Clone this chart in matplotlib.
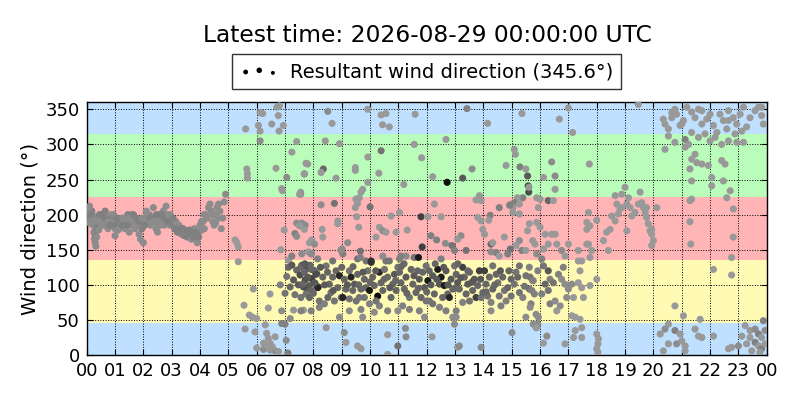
import matplotlib
matplotlib.use("Agg")
import matplotlib.pyplot as plt

TITLE = "Latest time: 2026-08-29 00:00:00 UTC"
LEGEND_LABEL = "Resultant wind direction (345.6°)"
YLABEL = "Wind direction (°)"
XTICK_LABELS = ["%02d" % h for h in range(24)] + ["00"]
YTICKS = [0, 50, 100, 150, 200, 250, 300, 350]

# sector bands (deg from, deg to, colour)
BANDS = [(0, 45, "#bfe0ff"), (45, 135, "#fffab4"), (135, 225, "#ffb4b6"),
         (225, 315, "#bafcba"), (315, 360, "#bfe0ff")]

# (hour, direction, grey shade)
night = [
(0.02,200,.55),(0.05,195,.5),(0.08,208,.55),(0.1,212,.55),(0.12,198,.5),(0.15,190,.55),(0.18,205,.5),(0.2,200,.55),
(0.22,185,.55),(0.25,175,.55),(0.27,165,.55),(0.3,160,.55),(0.3,170,.5),(0.32,155,.55),(0.35,168,.55),(0.35,180,.5),
(0.38,195,.55),(0.4,185,.5),(0.42,178,.55),(0.45,190,.55),(0.5,200,.5),(0.55,195,.55),(0.6,185,.5),(0.62,200,.55),
(0.65,205,.5),(0.7,195,.55),(0.72,190,.5),(0.75,180,.55),(0.8,185,.5),(0.85,200,.55),(0.9,195,.5),(0.95,190,.55),
(1.0,180,.55),(1.05,185,.5),(1.1,178,.55),(1.15,190,.5),(1.2,185,.55),(1.25,195,.55),(1.3,185,.5),(1.35,180,.55),
(1.4,190,.55),(1.45,200,.5),(1.5,195,.55),(1.55,185,.55),(1.6,200,.5),(1.65,190,.55),(1.7,180,.55),(1.75,195,.5),
(1.8,185,.55),(1.85,172,.55),(1.9,165,.55),(1.95,180,.5),(2.0,185,.55),(2.0,160,.55),(2.05,195,.5),(2.1,205,.55),
(2.15,190,.55),(2.2,200,.5),(2.25,185,.55),(2.3,195,.55),(2.35,210,.55),(2.4,190,.5),(2.45,180,.55),(2.5,195,.55),
(2.55,200,.5),(2.6,185,.55),(2.65,190,.55),(2.7,205,.55),(2.75,195,.5),(2.8,212,.55),(2.85,200,.55),(2.9,190,.5),
(2.95,185,.55),(3.0,195,.55),(3.05,185,.5),(3.1,180,.55),(3.15,190,.55),(3.2,175,.5),(3.25,185,.55),(3.3,178,.5),
(3.35,172,.55),(3.4,180,.5),(3.45,170,.5),(3.5,175,.55),(3.55,168,.5),(3.6,178,.55),(3.65,170,.5),(3.7,165,.55),
(3.75,172,.5),(3.8,180,.55),(3.85,168,.55),(3.9,160,.55),(3.95,175,.55),(4.0,185,.55),(4.05,178,.55),(4.1,190,.55),
(4.15,180,.55),(4.2,200,.55),(4.25,195,.55),(4.3,210,.55),(4.35,215,.55),(4.4,205,.55),(4.45,190,.55),(4.5,185,.55),
(4.55,200,.55),(4.6,210,.55),(4.65,215,.55),(4.7,205,.55),(4.75,180,.55),(4.8,195,.55),(4.85,218,.55),(4.9,229,.55),
(0.05,210,.55),(0.15,200,.5),(0.25,190,.55),(0.45,200,.5),(0.55,185,.55),(0.65,195,.5),(0.75,190,.55),(0.85,185,.5),
(0.95,200,.55),(1.05,195,.5),(1.15,180,.55),(1.25,185,.5),(1.35,195,.55),(1.45,185,.5),(1.55,195,.55),(1.65,200,.5),
(1.75,185,.55),(1.85,190,.5),(1.95,195,.55),(2.05,185,.5),(2.15,200,.55),(2.25,195,.5),(2.35,190,.55),(2.45,200,.5),
(2.55,185,.55),(2.65,200,.5),(2.75,185,.55),(2.85,190,.5),(2.95,200,.55),(3.05,195,.5),(3.15,180,.5),(3.25,175,.5),
(3.35,180,.5),(3.45,178,.5),(3.55,175,.5),(3.65,178,.5),(3.75,168,.5),(3.85,175,.5),(3.95,168,.5),(0.1,188,.55),
(0.2,192,.55),(1.0,170,.55),(1.5,175,.55),(2.5,175,.55),(4.05,190,.55),(4.15,200,.55),(4.45,200,.55),(4.55,188,.55),
(4.65,195,.55),
]

dawn = [
(5.24,164,.6),(5.3,160,.6),(5.35,154,.6),(5.35,133,.6),(5.61,322,.6),(5.65,265,.6),(5.67,258,.6),(5.67,252,.6),
(5.88,94,.6),(5.55,71,.6),(5.74,57,.6),(5.85,54,.6),(6.0,52,.6),(5.59,37,.6),(5.94,33,.6),(6.3,43,.6),(6.35,31,.6),
(6.41,24,.6),(6.47,17,.6),(6.24,17,.6),(6.65,26,.6),(6.0,10,.6),(6.24,8,.55),(6.47,7,.6),(6.65,6,.55),(6.77,5,.6),
(6.55,12,.6),(6.35,14,.6),(6.41,67,.6),(6.47,87,.6),(6.12,345,.6),(6.21,344,.6),(6.06,327,.6),(6.12,319,.6),
(6.12,305,.55),(6.71,353,.6),(6.8,355,.6),(6.76,341,.6),(6.53,329,.6),(6.79,319,.6),(6.94,327,.6),(6.68,266,.6),
(6.91,234,.6),(6.85,150,.6),(6.97,178,.6),(6.88,237,.6),
(6.88,63,.55),(6.88,45,.5),(7.0,44,.5),(7.04,21,.55),(7.1,3,.5),(7.18,52,.55),(7.3,64,.6),(7.65,64,.6),(7.55,232,.6),
(7.06,253,.55),(7.24,289,.6),(7.41,304,.6),(7.55,229,.55),(7.76,273,.6),(7.68,258,.45),(7.41,188,.55),(7.59,188,.55),
(7.71,185,.55),(7.35,173,.5),(7.41,169,.55),(7.94,164,.6),(7.12,135,.6),(7.24,141,.5),(7.59,144,.55),(7.82,147,.6),
(7.94,145,.55),
(7.12,125,.4),(7.24,128,.35),(7.41,121,.4),(7.59,128,.35),(7.76,123,.3),(7.88,128,.4),(8.0,121,.3),(8.12,116,.35),
(7.06,112,.45),(7.3,107,.35),(7.53,114,.3),(7.71,107,.3),(7.94,109,.25),(8.06,102,.3),(8.18,97,.35),(6.83,100,.5),
(7.18,97,.4),(7.47,100,.35),(7.76,95,.35),(8.0,88,.4),(7.0,88,.45),(7.35,86,.45),(7.65,97,.3),
]

day_low = [
(7.56,125,.4),(7.68,118,.4),(7.8,111,.35),(7.92,122,.4),(7.62,101,.4),(7.86,99,.35),(7.92,92,.4),(7.74,87,.45),
(7.56,82,.45),(7.86,82,.4),(8.04,120,.4),(7.92,63,.5),(7.56,63,.5),
(8.09,115,.3),(8.15,96,.15),(8.33,111,.4),(8.45,127,.45),(8.56,101,.4),(8.62,89,.45),(8.68,111,.4),(8.8,120,.4),
(8.86,96,.4),(8.92,113,.15),(8.98,82,.45),(8.21,77,.45),(8.39,73,.5),(8.51,82,.4),(8.74,77,.45),(8.92,54,.55),
(8.21,68,.5),(8.04,103,.35),(8.68,134,.45),(8.98,149,.5),
(9.09,108,.4),(9.15,94,.4),(9.27,120,.45),(9.33,111,.15),(9.39,92,.4),(9.45,101,.35),(9.56,115,.4),(9.62,82,.45),
(9.68,65,.5),(9.8,108,.4),(9.86,96,.4),(9.92,120,.45),(9.98,92,.1),(9.27,80,.45),(9.04,82,.15),(9.51,77,.45),
(9.68,94,.4),(9.8,82,.45),(9.27,63,.55),(9.74,54,.55),(9.56,137,.45),(9.86,134,.45),
(10.04,132,.2),(10.09,111,.4),(10.15,99,.4),(10.27,84,.05),(10.33,118,.15),(10.39,103,.4),(10.45,92,.4),
(10.51,122,.45),(10.62,111,.4),(10.68,134,.45),(10.74,82,.4),(10.8,101,.4),(10.86,115,.35),(10.92,92,.4),
(10.98,125,.45),(10.33,70,.5),(10.62,63,.5),(10.15,61,.55),(10.98,63,.55),(10.56,134,.45),(10.21,77,.45),(9.98,73,.5),
(11.04,118,.4),(11.09,103,.4),(11.21,94,.4),(11.27,111,.35),(11.39,82,.45),(11.45,122,.4),(11.51,101,.4),
(11.62,89,.4),(11.68,120,.4),(11.74,108,.35),(11.8,82,.4),(11.86,118,.4),(11.92,96,.35),(11.98,77,.45),
(11.15,70,.5),(11.39,65,.5),(11.74,63,.5),(11.92,54,.55),(11.56,139,.45),(11.98,127,.45),
(12.04,106,.1),(12.09,120,.4),(12.21,113,.35),(12.27,87,.4),(12.39,122,.1),(12.45,101,.35),(12.51,111,.1),
(12.56,82,.4),(12.62,99,.1),(12.68,120,.35),(12.74,87,.4),(12.8,82,.15),(12.86,108,.35),(12.92,94,.4),
(12.98,127,.45),(12.09,77,.45),(12.21,73,.45),(12.45,68,.5),(12.68,63,.5),(12.92,54,.55),(13.04,63,.5),
(13.04,115,.4),(13.09,103,.35),(13.15,94,.4),(13.27,125,.25),(13.33,111,.4),(13.39,87,.4),(13.45,101,.35),
(13.51,118,.4),(13.62,92,.4),(13.68,108,.35),(13.74,82,.25),(13.8,99,.4),(13.86,120,.25),(13.92,82,.45),
(13.98,89,.4),(13.27,75,.5),(13.51,77,.45),(13.04,54,.55),(12.98,44,.55),
(14.04,120,.25),(14.09,101,.4),(14.15,84,.45),(14.21,111,.4),(14.27,75,.5),(14.33,94,.4),(14.45,115,.4),
(14.51,103,.45),(14.56,84,.45),(14.68,111,.4),(14.74,92,.45),(14.8,77,.5),(14.86,96,.4),(14.98,108,.4),
(14.27,63,.55),(14.62,70,.5),(14.33,127,.45),(14.98,84,.45),
(15.09,101,.45),(15.21,111,.4),(15.27,89,.45),(15.39,82,.5),(15.5,113,.45),(15.62,94,.45),(15.68,73,.5),
(15.74,106,.45),(15.8,87,.5),(15.86,58,.55),(15.5,54,.55),(15.27,127,.45),(15.62,125,.5),(15.92,120,.5),(15.92,44,.55),
(8.25,125,.35),(8.5,118,.4),(8.7,92,.35),(9.0,125,.4),(9.2,100,.35),(9.4,126,.4),(9.6,100,.4),(9.75,118,.35),
(10.0,104,.4),(10.2,120,.35),(10.5,108,.4),(10.7,96,.35),(10.9,106,.4),(11.1,126,.4),(11.3,88,.4),(11.55,113,.35),
(11.7,95,.4),(12.0,90,.4),(12.15,100,.35),(12.35,108,.35),(12.6,125,.35),(12.75,100,.35),(13.0,95,.4),
(13.2,110,.35),(13.45,120,.4),(13.6,104,.35),(13.9,108,.35),(14.1,90,.4),(14.4,100,.4),(14.6,120,.35),
(14.9,120,.4),(15.15,118,.45),(15.45,98,.45),(7.7,130,.35),(8.4,100,.35),(11.2,130,.4),(12.3,130,.4),(13.1,130,.4),
(8.45,39,.6),(9.09,32,.55),(9.15,18,.6),(9.68,9,.6),(9.56,13,.6),(10.62,29,.6),(10.98,13,.45),(11.25,38,.55),
(11.27,26,.55),(12.19,26,.6),(13.09,11,.6),(13.15,13,.55),(13.92,11,.55),(15.01,32,.55),(15.86,39,.6),(10.62,1,.6),
]

day_high = [
(8.51,347,.55),(8.66,330,.6),(9.92,350,.6),(10.39,342,.6),(10.56,344,.6),(10.44,328,.6),(10.68,325,.6),
(11.59,343,.6),(13.42,351,.5),(14.15,330,.6),(15.36,344,.6),
(8.42,305,.6),(8.92,301,.6),(7.74,273,.6),(7.8,272,.6),(7.68,258,.6),(8.35,265,.4),(8.27,260,.6),(8.8,252,.6),
(9.48,267,.6),(9.48,263,.6),(9.92,282,.6),(10.31,259,.6),(10.39,291,.45),(9.92,246,.6),(9.74,236,.6),(9.68,232,.6),
(9.62,224,.6),(9.5,222,.6),(9.56,216,.6),(11.56,300,.6),(11.82,281,.6),(11.19,243,.6),(12.21,254,.6),(12.68,307,.6),
(12.72,246,.05),(13.27,252,.35),(13.6,265,.55),(13.86,227,.6),(13.74,221,.6),(13.92,220,.6),(15.09,293,.6),
(15.13,286,.6),(14.8,270,.6),(15.29,268,.5),(15.5,265,.6),(15.56,255,.35),(15.58,241,.3),(15.6,232,.3),(15.39,224,.5),
(15.2,224,.6),(15.09,217,.5),(15.27,215,.6),(15.04,210,.6),(14.92,213,.6),(7.51,229,.6),
(8.27,214,.55),(8.74,216,.45),(7.51,184,.6),(7.68,179,.6),(8.31,179,.6),(8.33,168,.6),(7.86,160,.6),(8.04,158,.55),
(8.86,191,.6),(8.86,187,.6),(9.48,210,.6),(10.0,211,.45),(9.53,197,.6),(9.6,182,.6),(9.66,148,.45),(9.21,160,.55),
(9.01,151,.5),(10.33,182,.6),(10.45,177,.55),(10.56,175,.6),(10.21,168,.6),(10.92,175,.6),(10.74,198,.6),
(11.04,203,.6),(11.31,178,.6),(11.8,197,.25),(11.84,154,.25),(11.71,139,.1),(12.04,197,.6),(12.27,215,.6),
(12.51,197,.6),(12.15,170,.5),(12.35,164,.5),(12.66,159,.55),(12.89,156,.45),(12.98,149,.5),(13.39,149,.45),
(13.21,170,.55),(13.09,165,.6),(13.8,196,.6),(13.92,191,.6),(13.98,179,.6),(14.24,199,.5),(14.19,192,.6),
(14.04,172,.6),(14.27,158,.4),(14.33,160,.6),(14.56,210,.5),(14.94,214,.5),(15.04,203,.6),(15.27,201,.6),
(15.62,187,.6),(15.56,177,.6),(15.27,163,.55),(15.15,156,.6),(15.36,149,.5),(15.5,149,.6),(15.74,163,.6),
(14.74,168,.6),(14.45,146,.5),(14.27,147,.55),(14.95,151,.45),(14.86,144,.5),(14.56,141,.6),(11.27,141,.55),
(11.09,141,.5),(11.04,137,.5),(10.45,141,.55),(10.04,134,.2),(9.66,139,.5),(9.04,144,.5),(8.98,150,.55),
(8.15,137,.5),(7.92,144,.55),(12.51,137,.5),
]

evening = [
(17.0,352,.6),(16.68,336,.6),(17.15,317,.6),(19.47,357,.6),
(20.35,336,.6),(20.41,329,.6),(20.53,322,.6),(20.65,338,.6),(20.76,350,.6),(20.82,343,.6),(20.94,327,.6),
(21.06,334,.6),(21.18,353,.6),(21.35,346,.6),(21.47,338,.6),(21.59,350,.6),(21.71,329,.6),(21.88,336,.6),
(22.0,343,.6),(22.12,327,.6),(22.24,317,.6),(22.35,343,.6),(22.47,334,.6),(22.59,322,.6),(22.65,348,.6),
(22.82,338,.6),(22.94,329,.6),(23.06,343,.6),(23.18,353,.6),(23.29,325,.6),(23.41,338,.6),(23.59,348,.6),
(23.71,353,.6),(23.82,341,.6),(20.53,312,.6),(20.76,303,.6),(21.12,307,.5),(21.24,300,.6),(20.65,345,.6),
(21.35,317,.6),(21.82,315,.6),(22.0,305,.6),(22.18,310,.6),(22.41,300,.6),(22.65,305,.6),(22.88,315,.6),
(22.94,303,.6),(23.18,303,.6),(20.41,293,.6),(21.0,329,.6),(21.71,348,.6),(22.65,334,.6),(23.12,319,.6),
(23.88,329,.6),(23.82,353,.6),(21.12,296,.6),(21.59,310,.6),
(16.41,275,.55),(16.12,253,.6),(16.53,255,.55),(16.53,236,.6),(17.74,272,.6),(15.61,239,.6),(21.47,286,.6),
(21.35,279,.6),(21.53,274,.6),(21.29,265,.6),(21.71,272,.6),(21.94,270,.6),(22.06,253,.6),(22.06,241,.6),
(22.41,277,.6),(22.53,272,.6),(22.47,248,.6),(22.71,234,.6),(22.59,224,.6),(21.35,248,.6),(21.35,222,.6),
(21.29,220,.6),(19.0,239,.6),(18.88,229,.6),(18.65,227,.6),(19.53,232,.6),(19.12,224,.6),(15.88,224,.6),
(16.0,222,.6),(16.29,220,.4),
(18.71,215,.6),(18.82,208,.6),(18.76,201,.6),(18.53,198,.6),(18.65,191,.6),(18.88,210,.6),(19.06,215,.6),
(19.18,210,.6),(19.24,198,.6),(19.35,203,.6),(19.47,215,.6),(19.59,217,.6),(19.65,210,.6),(19.71,203,.6),
(19.76,210,.6),(19.76,196,.6),(19.82,187,.6),(19.94,179,.6),(19.94,172,.6),(20.0,163,.6),(19.94,156,.6),
(19.88,177,.6),(20.12,210,.6),(19.06,177,.6),(18.47,179,.6),(18.35,175,.6),(18.24,163,.6),(18.41,149,.6),
(17.82,149,.6),(17.76,139,.6),(17.65,158,.6),(17.71,158,.6),(17.76,184,.6),(17.65,179,.6),(17.71,203,.6),
(18.0,192,.6),(17.65,189,.6),(17.0,158,.6),(17.35,149,.6),(17.35,134,.6),(17.47,134,.6),(16.76,149,.55),
(16.88,141,.6),(16.53,172,.6),(16.41,172,.6),(16.18,172,.6),(16.0,182,.6),(15.94,210,.6),(15.88,189,.6),
(15.82,158,.6),(15.88,144,.55),(16.29,158,.6),(16.12,151,.6),(16.59,158,.6),(16.47,220,.6),(21.29,190,.6),
(21.32,158,.6),(22.82,168,.6),(22.82,208,.6),(22.76,139,.6),
(15.65,111,.45),(15.76,106,.5),(15.71,92,.5),(16.06,137,.5),(16.12,127,.45),(16.29,120,.35),(16.35,108,.5),
(16.47,103,.45),(16.18,101,.4),(16.06,87,.5),(16.29,92,.45),(16.35,73,.5),(16.53,77,.55),(16.65,115,.5),
(16.76,108,.55),(16.82,125,.5),(16.88,101,.55),(17.0,94,.55),(16.94,82,.55),(16.71,70,.55),(16.59,63,.6),
(17.12,101,.55),(17.18,82,.6),(17.35,103,.6),(17.41,120,.6),(17.47,96,.6),(17.53,82,.6),(18.0,108,.6),
(17.76,99,.6),(15.65,68,.55),(15.94,54,.55),(17.12,56,.6),(17.24,54,.6),(17.41,51,.6),(20.76,70,.6),
(21.06,56,.6),(21.65,51,.6),(22.12,122,.6),(22.76,114,.6),
(15.76,44,.55),(15.88,39,.6),(16.24,27,.55),(16.12,17,.6),(16.88,16,.6),(17.24,35,.6),(17.18,25,.6),
(17.47,39,.6),(17.47,25,.6),(18.0,30,.6),(18.06,23,.6),(18.04,16,.6),(18.0,9,.6),(18.04,4,.6),
(20.24,30,.6),(20.41,37,.55),(20.53,44,.6),(20.76,35,.5),(20.94,30,.6),(20.82,16,.55),(21.0,20,.6),
(21.12,13,.6),(21.12,6,.6),(20.35,6,.6),(20.53,16,.6),(21.47,37,.6),(21.59,27,.6),(21.71,25,.6),(22.12,27,.6),
(22.65,9,.6),(22.76,11,.6),(23.0,13,.55),(23.24,42,.6),(23.41,35,.6),(23.59,37,.55),(23.71,30,.5),(23.82,25,.6),
(23.88,49,.5),(23.41,25,.6),(23.59,18,.5),(23.71,13,.6),(23.82,9,.5),(23.94,16,.6),(23.47,6,.6),(23.29,16,.6),
(23.76,4,.6),(23.94,35,.55),(23.12,27,.6),
]

segments = [night, dawn, day_low, day_high, evening]

fig = plt.figure(figsize=(8, 4), dpi=100)
ax = fig.add_axes([0.1084, 0.1123, 0.85, 0.632])

for lo, hi, col in BANDS:
    ax.axhspan(lo, hi, color=col, zorder=0, lw=0)

for seg in segments:
    hrs = [p[0] for p in seg]
    dirs = [p[1] for p in seg]
    cols = [str(p[2]) for p in seg]
    ax.scatter(hrs, dirs, s=26, c=cols, edgecolors="none", zorder=3)

nan = float("nan")
proxy = ax.scatter([nan, nan], [nan, nan], s=[8, 16], c="k", edgecolors="none",
                   label=LEGEND_LABEL)

ax.set_xlim(0, 24)
ax.set_ylim(0, 360)
ax.set_xticks(range(25))
ax.set_xticklabels(XTICK_LABELS)
ax.set_yticks(YTICKS)
ax.tick_params(direction="in", top=True, right=True, labelsize=13, length=4)
ax.tick_params(axis="x", pad=5)
ax.tick_params(axis="y", pad=5)
ax.grid(True, color="k", linestyle=":", linewidth=0.7)
ax.set_ylabel(YLABEL, fontsize=14)
for sp in ax.spines.values():
    sp.set_linewidth(1.0)

leg = ax.legend(handles=[proxy], loc="lower center", bbox_to_anchor=(0.5, 1.053),
                borderaxespad=0, scatterpoints=3, fontsize=14, fancybox=False,
                frameon=True, handletextpad=0.6)
leg.get_frame().set_edgecolor("k")
leg.get_frame().set_linewidth(1.0)

fig.text(0.534, 0.896, TITLE, ha="center", va="baseline", fontsize=16.8)

fig.savefig("out.png", dpi=100)
